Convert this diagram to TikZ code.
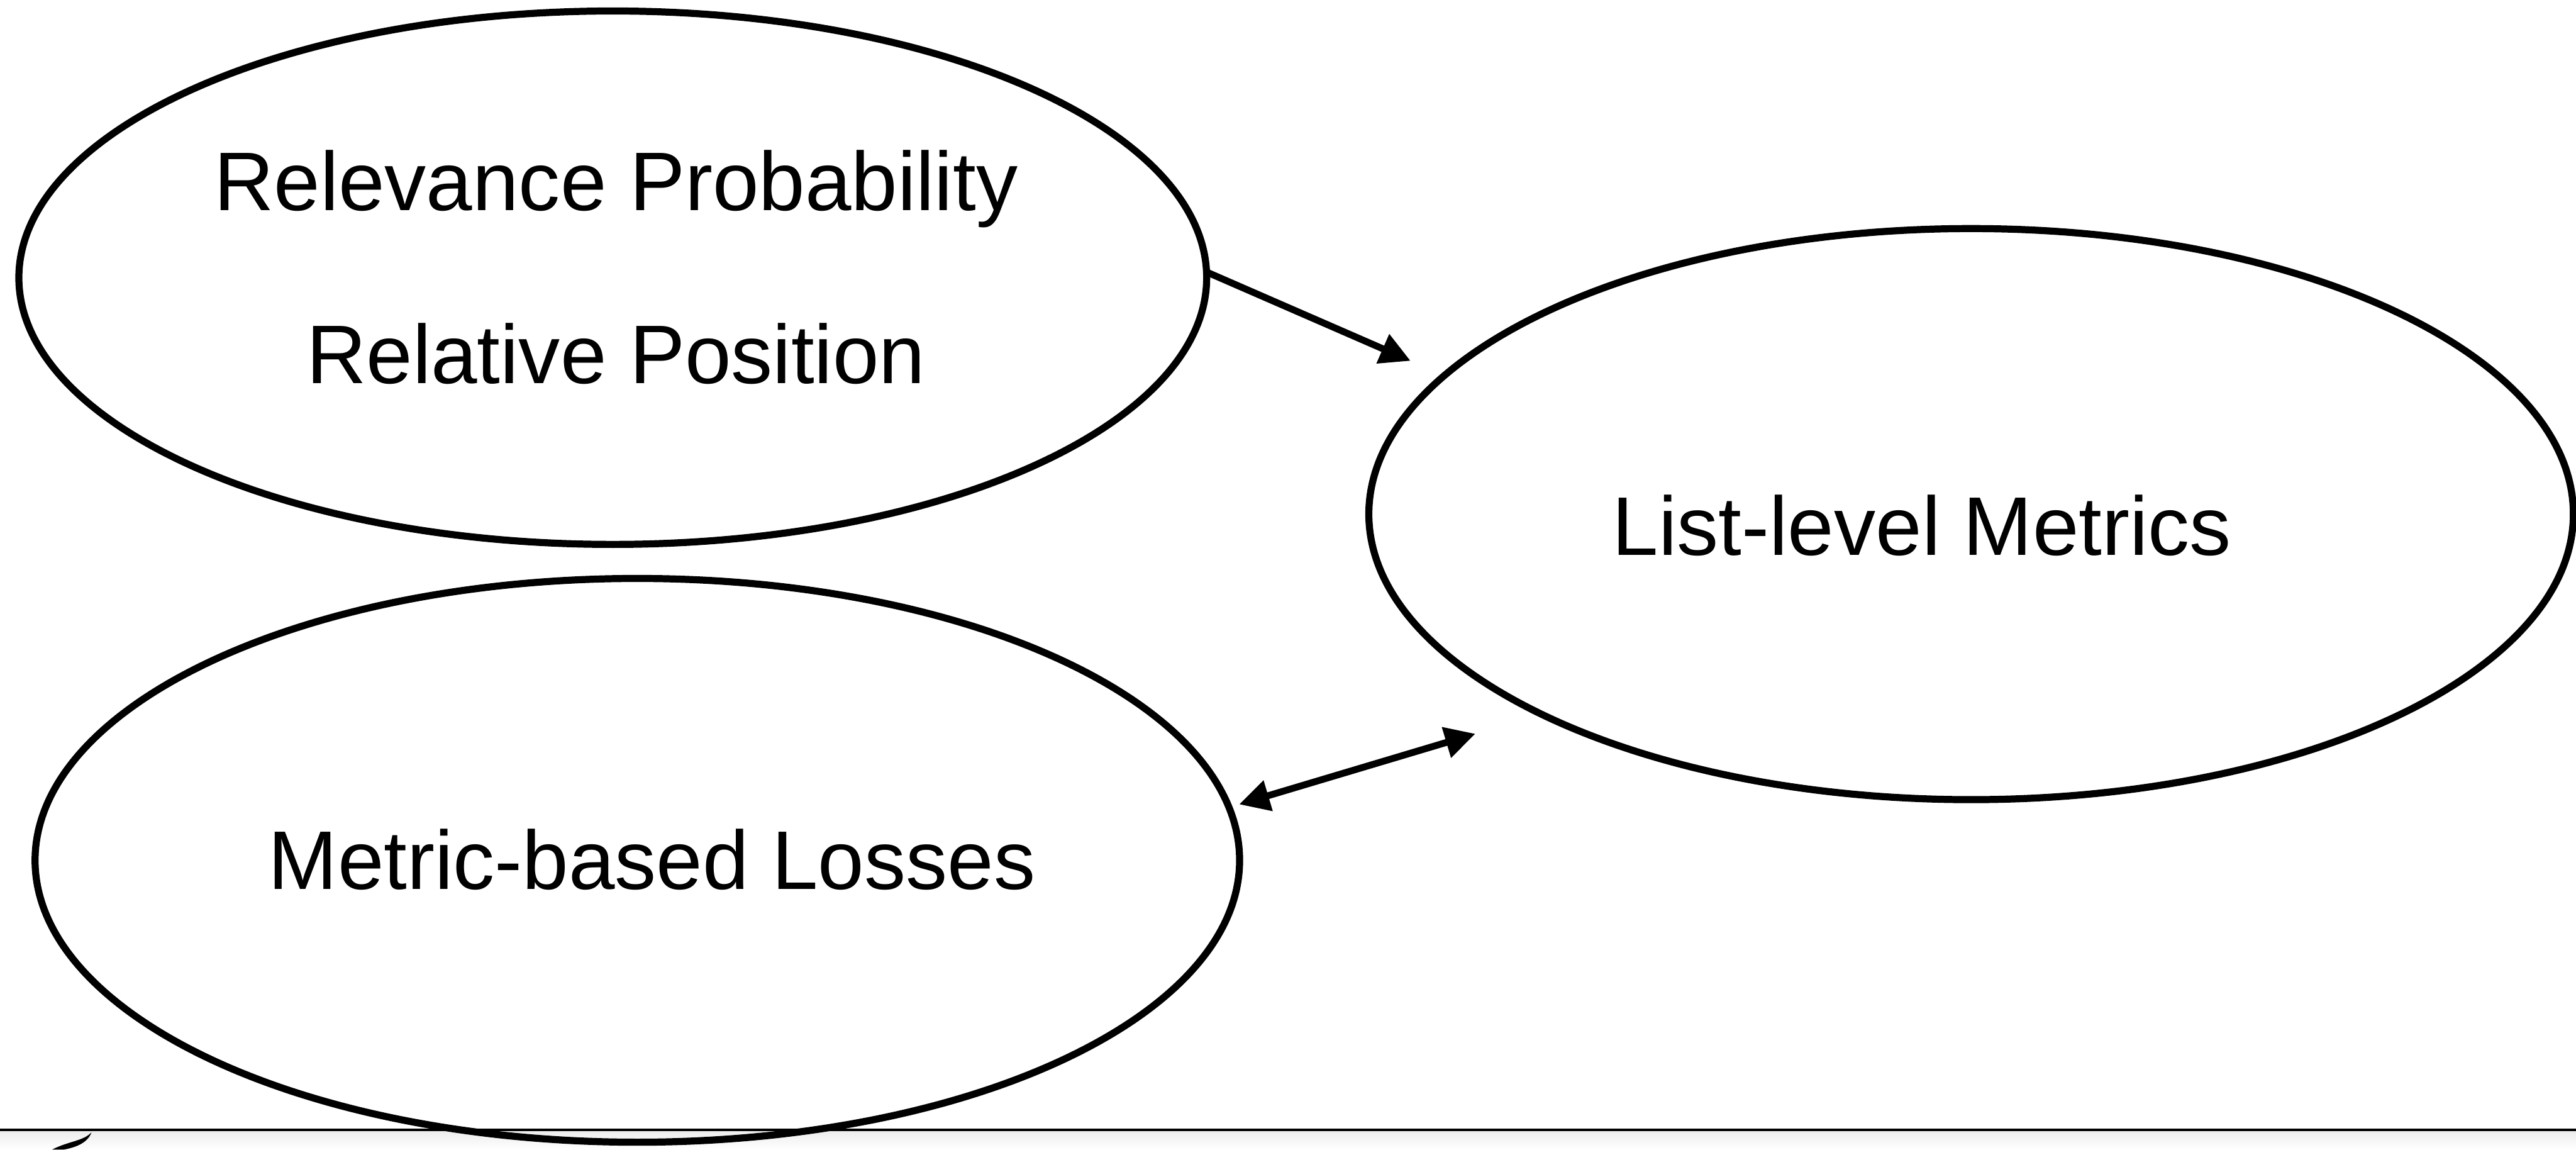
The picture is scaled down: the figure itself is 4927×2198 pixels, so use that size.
\documentclass[tikz,border=0pt]{standalone}
\usepackage{fontspec}
\setmainfont{Liberation Sans}
\usetikzlibrary{shapes.geometric,arrows.meta}
\tikzset{
  oval/.style={ellipse, draw=black, line width=1.35pt, inner sep=0pt, outer sep=0pt},
  lbl/.style={font=\fontsize{15.9}{19}\selectfont, inner sep=0pt},
  conn/.style={line width=1.3pt, draw=black},
  tip/.tip={Triangle[length=5.8pt,width=5.8pt]}
}
\begin{document}
\begin{tikzpicture}[x=0.1pt,y=-0.1pt]
\useasboundingbox (0,0) rectangle (4927,2198);
\fill[white] (0,0) rectangle (4927,2198);
% soft band under the rule
\shade[top color=gray!14, bottom color=white] (0,2163) rectangle (4927,2198);
\draw[line width=0.5pt] (0,2160) -- (4927,2160);
\fill (100,2198) .. controls (130,2182) and (160,2182) .. (175,2165)
      .. controls (168,2185) and (145,2194) .. (122,2198) -- cycle;

\node[oval, minimum width=227.2pt, minimum height=102pt] (e1) at (1172,531) {};
\node[oval, minimum width=230.4pt, minimum height=107.8pt] (e2) at (1219,1645) {};
\node[oval, minimum width=230.4pt, minimum height=109.2pt] (e3) at (3770,983) {};

\node[lbl] (t1) at (1178,361) {Relevance Probability};
\node[lbl] (t2) at (1178,676) {Relative Position};
\node[lbl] (t3) at (1247,1643) {Metric-based Losses};
\node[lbl] (t4) at (3676,1005) {List-level Metrics};

\coordinate (a1s) at (2312,522);
\coordinate (a1e) at (2698,690);
\coordinate (a2s) at (2370,1538);
\coordinate (a2e) at (2822,1403);
\draw[conn, -{tip}] (a1s) -- (a1e);
\draw[conn, {tip}-{tip}] (a2s) -- (a2e);
\end{tikzpicture}
\end{document}
